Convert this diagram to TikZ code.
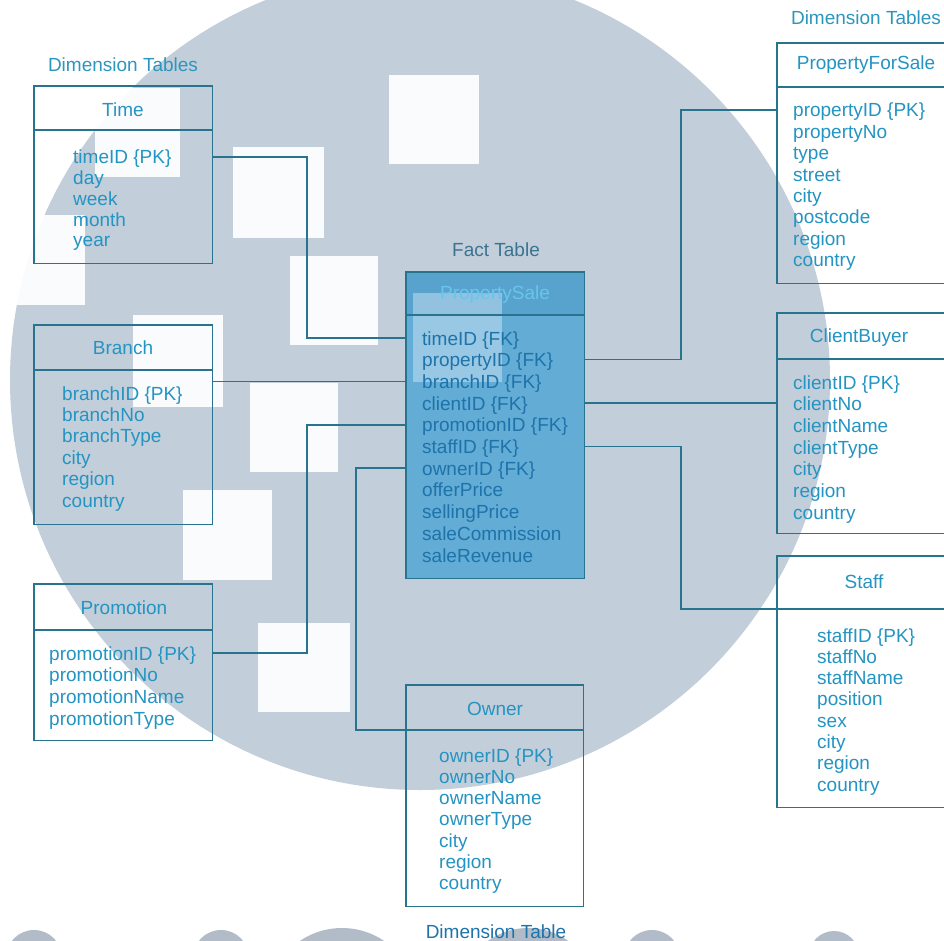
\documentclass[tikz,border=0pt]{standalone}
\usepackage{fontspec}
\setmainfont{Liberation Sans}
\definecolor{disc}{RGB}{194,206,218}
\definecolor{blob}{RGB}{178,188,200}
\definecolor{rule}{RGB}{40,115,142}
\definecolor{ink}{RGB}{36,148,194}
\definecolor{inkdark}{RGB}{30,115,170}
\definecolor{labelink}{RGB}{45,150,190}
\definecolor{factink}{RGB}{60,115,145}
\definecolor{factfill}{RGB}{98,172,214}
\definecolor{facthead}{RGB}{88,162,206}
\definecolor{facttitle}{RGB}{105,198,235}
\newcommand\tabfont{\fontsize{19}{22}\selectfont}
% one field node per row: name, x, first row y, row step, rows, extra style
\newcommand\fieldrows[6]{%
  \foreach \f [count=\i from 0] in {#5}
    {\node[fld,#6] (#1-f\i) at (#2, #3+#4*\i) {\f};}}
\begin{document}
\begin{tikzpicture}[x=1pt,y=-1pt,
  tbox/.style={rectangle, inner sep=0pt, anchor=north west},
  rulepen/.style={draw=rule, line width=1.5pt},
  conn/.style={draw=rule, line width=1.5pt},
  ttitle/.style={text=ink, font=\tabfont, inner sep=0pt},
  fld/.style={text=ink, font=\tabfont, inner sep=0pt, anchor=west,
              text height=14pt, text depth=0pt},
  grouplabel/.style={text=labelink, font=\tabfont, inner sep=0pt},
  paper/.style={white, opacity=0.92}]
\useasboundingbox (0,0) rectangle (944,941);
\clip (0,0) rectangle (944,941);

% backdrop: large disc, pale squares and the row of blobs at the foot
\fill[white] (0,0) rectangle (944,941);
\fill[disc] (420,380) circle[radius=410pt];
\foreach \a/\b/\c/\d in {389/75/479/164, 233/147/324/238, 290/256/378/345,
    95/88/180/177, -5/215/85/305, 133/315/223/407, 250/383/338/472,
    183/490/272/580, 258/623/350/712}
  \fill[paper] (\a,\b) rectangle (\c,\d);
\foreach \cx/\cy/\r in {34/958/28, 221/958/28, 342/1003/75, 528/997/69,
    652/958/28, 834/956/25}
  \fill[blob] (\cx,\cy) circle[radius=\r pt];

% table frames
\node[tbox, minimum width=178pt, minimum height=177pt] (time)   at (34,86)  {};
\node[tbox, minimum width=178pt, minimum height=199pt] (branch) at (34,325) {};
\node[tbox, minimum width=178pt, minimum height=156pt] (promo)  at (34,584) {};
\node[tbox, minimum width=177pt, minimum height=221pt] (owner)  at (406,685) {};
\node[tbox, minimum width=178pt, minimum height=306pt, fill=factfill] (fact) at (406,272) {};
\node[tbox, minimum width=178pt, minimum height=240pt] (pfs)    at (777,43) {};
\node[tbox, minimum width=178pt, minimum height=220pt] (client) at (777,313) {};
\node[tbox, minimum width=178pt, minimum height=251pt] (staff)  at (777,556) {};

\coordinate (time-div)   at (34,130);
\coordinate (branch-div) at (34,370);
\coordinate (promo-div)  at (34,630);
\coordinate (owner-div)  at (406,730);
\coordinate (fact-div)   at (406,315);
\coordinate (pfs-div)    at (777,87);
\coordinate (client-div) at (777,359);
\coordinate (staff-div)  at (777,609);

% fact table shading
\fill[facthead] (fact.north west) rectangle (fact-div -| fact.east);
\fill[white, opacity=0.35] (413,293) rectangle (502,382);

% outlines and header rules
\foreach \t in {time, branch, promo, owner, fact, pfs, client, staff} {
  \draw[rulepen] (\t.north west) rectangle (\t.south east);
  \draw[rulepen] (\t-div) -- (\t-div -| \t.east);
}

% headings
\node[grouplabel] (lblleft)  at (123,65)  {Dimension Tables};
\node[grouplabel] (lblright) at (866,18)  {Dimension Tables};
\node[grouplabel, text=factink] (lblfact) at (496,250) {Fact Table};
\node[grouplabel, text=inkdark] (lblowner) at (496,932) {Dimension Table};

% table titles
\node[ttitle] (time-t)   at (123,110) {Time};
\node[ttitle] (branch-t) at (123,348) {Branch};
\node[ttitle] (promo-t)  at (124,608) {Promotion};
\node[ttitle] (owner-t)  at (495,709) {Owner};
\node[ttitle, text=facttitle] (fact-t) at (495,295) {PropertySale};
\node[ttitle] (pfs-t)    at (866,65)  {PropertyForSale};
\node[ttitle] (client-t) at (859,338) {ClientBuyer};
\node[ttitle] (staff-t)  at (864,582) {Staff};

% attribute rows
\fieldrows{time}{73}{157}{20.7}{timeID \{PK\}, day, week, month, year}{}
\fieldrows{branch}{62}{393}{21.4}{branchID \{PK\}, branchNo, branchType, city, region, country}{}
\fieldrows{promo}{49}{653}{21.7}{promotionID \{PK\}, promotionNo, promotionName, promotionType}{}
\fieldrows{owner}{439}{755}{21.3}{ownerID \{PK\}, ownerNo, ownerName, ownerType, city, region, country}{}
\fieldrows{fact}{422}{338}{21.7}{timeID \{FK\}, propertyID \{FK\}, branchID \{FK\}, clientID \{FK\},
  promotionID \{FK\}, staffID \{FK\}, ownerID \{FK\}, offerPrice, sellingPrice,
  saleCommission, saleRevenue}{text=inkdark}
\fieldrows{pfs}{793}{110}{21.4}{propertyID \{PK\}, propertyNo, type, street, city, postcode, region, country}{}
\fieldrows{client}{793}{382}{21.7}{clientID \{PK\}, clientNo, clientName, clientType, city, region, country}{}
\fieldrows{staff}{817}{635}{21.3}{staffID \{PK\}, staffNo, staffName, position, sex, city, region, country}{}

% links between the fact table and the dimension tables
\coordinate (bendL) at (307,0);
\coordinate (bendO) at (356,0);
\coordinate (bendR) at (681,0);
\draw[conn] (time.east |- time-f0) -- (bendL |- time-f0) -- (bendL |- fact-f0) -- (fact.west |- fact-f0);
\draw[conn] (branch.east |- fact-f2) -- (fact.west |- fact-f2);
\draw[conn] (promo.east |- promo-f0) -- (bendL |- promo-f0) -- (bendL |- fact-f4) -- (fact.west |- fact-f4);
\draw[conn] (fact.west |- fact-f6) -- (bendO |- fact-f6) -- (bendO |- owner-div) -- (owner-div);
\draw[conn] (fact.east |- fact-f1) -- (bendR |- fact-f1) -- (bendR |- pfs-f0) -- (pfs.west |- pfs-f0);
\draw[conn] (fact.east |- fact-f3) -- (client.west |- fact-f3);
\draw[conn] (fact.east |- fact-f5) -- (bendR |- fact-f5) -- (bendR |- staff-div) -- (staff-div);
\end{tikzpicture}
\end{document}
